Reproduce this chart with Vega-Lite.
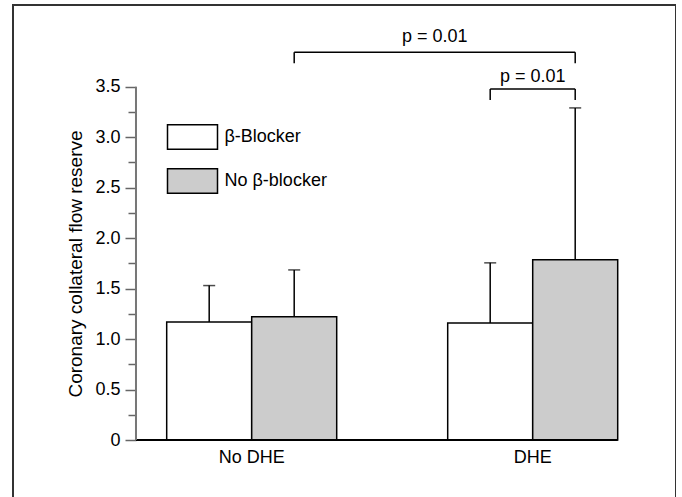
{
  "$schema": "https://vega.github.io/schema/vega-lite/v6.json",
  "width": 663,
  "height": 500,
  "autosize": {"type": "none"},
  "padding": {"left": 13, "top": 5, "right": 0, "bottom": 0},
  "background": "white",
  "config": {
    "view": {"stroke": "#333333", "strokeWidth": 2},
    "font": "Liberation Sans",
    "text": {"font": "Liberation Sans"}
  },
  "datasets": {
    "bars": [
      {"group": "No DHE", "series": "β-Blocker", "mean": 1.17, "upper": 1.53},
      {"group": "No DHE", "series": "No β-blocker", "mean": 1.22, "upper": 1.685},
      {"group": "DHE", "series": "β-Blocker", "mean": 1.16, "upper": 1.755},
      {"group": "DHE", "series": "No β-blocker", "mean": 1.785, "upper": 3.29}
    ],
    "one": [{}]
  },
  "resolve": {"scale": {"y": "independent"}, "axis": {"y": "independent"}},
  "layer": [
    {
      "layer": [
        {
          "data": {"name": "bars"},
          "mark": {"type": "bar", "stroke": "black", "strokeWidth": 1.5},
          "encoding": {
            "x": {
              "field": "group", "type": "nominal",
              "scale": {"domain": ["No DHE", "DHE"], "paddingInner": 0.395, "paddingOuter": 0.3772, "align": 0.725},
              "axis": {
                "orient": "bottom", "offset": -65, "domain": false, "ticks": false,
                "labelAngle": 0, "labelFont": "Liberation Sans", "labelFontSize": 18,
                "labelColor": "black", "labelPadding": 8, "title": null
              }
            },
            "xOffset": {"field": "series", "type": "nominal", "scale": {"domain": ["β-Blocker", "No β-blocker"], "paddingInner": 0, "paddingOuter": 0}},
            "y": {
              "field": "mean", "type": "quantitative",
              "scale": {"domain": [-0.6439, 4.3095], "nice": false, "zero": false},
              "axis": {
                "orient": "left", "offset": -123, "domain": false, "grid": false,
                "values": [0, 0.5, 1, 1.5, 2, 2.5, 3, 3.5],
                "labelExpr": "datum.value == 0 ? '0' : format(datum.value, '.1f')",
                "tickSize": 11, "tickColor": "#666666", "tickWidth": 1.5,
                "labelFont": "Liberation Sans", "labelFontSize": 18, "labelColor": "black", "labelPadding": 5,
                "title": "Coronary collateral flow reserve",
                "titleFont": "Liberation Sans", "titleFontSize": 19, "titleFontWeight": "normal",
                "titleColor": "black", "titlePadding": 9, "titleY": 258.5
              }
            },
            "fill": {
              "field": "series", "type": "nominal",
              "scale": {"domain": ["β-Blocker", "No β-blocker"], "range": ["white", "#cccccc"]},
              "legend": {
                "orient": "none", "legendX": 153.5, "legendY": 106, "title": null,
                "symbolType": "M-1,-0.49H1V0.49H-1Z", "symbolSize": 2500,
                "symbolStrokeColor": "black", "symbolStrokeWidth": 1.5, "symbolOpacity": 1,
                "labelFont": "Liberation Sans", "labelFontSize": 18, "labelColor": "black",
                "labelOffset": 6, "rowPadding": 2
              }
            }
          }
        },
        {
          "data": {"name": "bars"},
          "mark": {"type": "rule", "color": "black", "strokeWidth": 1.5},
          "encoding": {
            "x": {"field": "group", "type": "nominal"},
            "xOffset": {"field": "series", "type": "nominal"},
            "y": {"field": "mean", "type": "quantitative"},
            "y2": {"field": "upper"}
          }
        },
        {
          "data": {"name": "bars"},
          "mark": {"type": "tick", "color": "black", "orient": "horizontal", "size": 12, "thickness": 1.5},
          "encoding": {
            "x": {"field": "group", "type": "nominal"},
            "xOffset": {"field": "series", "type": "nominal"},
            "y": {"field": "upper", "type": "quantitative"}
          }
        },
        {
          "data": {"name": "one"},
          "mark": {"type": "rule", "color": "black", "strokeWidth": 2},
          "encoding": {
            "x": {"datum": "No DHE", "type": "nominal", "bandPosition": -0.1806},
            "x2": {"datum": "DHE", "bandPosition": 1},
            "y": {"datum": 0, "type": "quantitative"}
          }
        },
        {
          "data": {"name": "one"},
          "mark": {"type": "rule", "color": "black", "strokeWidth": 1.5},
          "encoding": {
            "x": {"datum": "No DHE", "type": "nominal", "bandPosition": 0.75},
            "x2": {"datum": "DHE", "bandPosition": 0.75},
            "y": {"datum": 3.841, "type": "quantitative"}
          }
        },
        {
          "data": {"name": "one"},
          "mark": {"type": "rule", "color": "black", "strokeWidth": 1.5},
          "encoding": {
            "x": {"datum": "No DHE", "type": "nominal", "bandPosition": 0.75},
            "y": {"datum": 3.841, "type": "quantitative"},
            "y2": {"datum": 3.732}
          }
        },
        {
          "data": {"name": "one"},
          "mark": {"type": "rule", "color": "black", "strokeWidth": 1.5},
          "encoding": {
            "x": {"datum": "DHE", "type": "nominal", "bandPosition": 0.75},
            "y": {"datum": 3.841, "type": "quantitative"},
            "y2": {"datum": 3.732}
          }
        },
        {
          "data": {"name": "one"},
          "mark": {"type": "rule", "color": "black", "strokeWidth": 1.5},
          "encoding": {
            "x": {"datum": "DHE", "type": "nominal", "bandPosition": 0.25},
            "x2": {"datum": "DHE", "bandPosition": 0.75},
            "y": {"datum": 3.477, "type": "quantitative"}
          }
        },
        {
          "data": {"name": "one"},
          "mark": {"type": "rule", "color": "black", "strokeWidth": 1.5},
          "encoding": {
            "x": {"datum": "DHE", "type": "nominal", "bandPosition": 0.25},
            "y": {"datum": 3.477, "type": "quantitative"},
            "y2": {"datum": 3.368}
          }
        },
        {
          "data": {"name": "one"},
          "mark": {"type": "rule", "color": "black", "strokeWidth": 1.5},
          "encoding": {
            "x": {"datum": "DHE", "type": "nominal", "bandPosition": 0.75},
            "y": {"datum": 3.477, "type": "quantitative"},
            "y2": {"datum": 3.368}
          }
        },
        {
          "data": {"name": "one"},
          "mark": {"type": "text", "fontSize": 18, "color": "black", "align": "center", "baseline": "alphabetic"},
          "encoding": {
            "x": {"datum": "DHE", "type": "nominal", "bandPosition": -0.0765},
            "y": {"datum": 3.945, "type": "quantitative"},
            "text": {"value": "p = 0.01"}
          }
        },
        {
          "data": {"name": "one"},
          "mark": {"type": "text", "fontSize": 18, "color": "black", "align": "center", "baseline": "alphabetic"},
          "encoding": {
            "x": {"datum": "DHE", "type": "nominal", "bandPosition": 0.5},
            "y": {"datum": 3.547, "type": "quantitative"},
            "text": {"value": "p = 0.01"}
          }
        }
      ]
    },
    {
      "data": {"name": "one"},
      "mark": {"type": "rule", "color": "#777777", "strokeWidth": 2},
      "encoding": {
        "x": {"datum": "No DHE", "type": "nominal", "bandPosition": -0.1806},
        "y": {
          "datum": 0, "type": "quantitative",
          "scale": {"domain": [-0.6439, 4.3095], "nice": false, "zero": false},
          "axis": {
            "orient": "left", "offset": -123, "domain": false, "grid": false,
            "values": [0.25, 0.75, 1.25, 1.75, 2.25, 2.75, 3.25],
            "labels": false, "tickSize": 8, "tickColor": "#666666", "tickWidth": 1.5, "title": null
          }
        },
        "y2": {"datum": 3.5}
      }
    }
  ]
}
